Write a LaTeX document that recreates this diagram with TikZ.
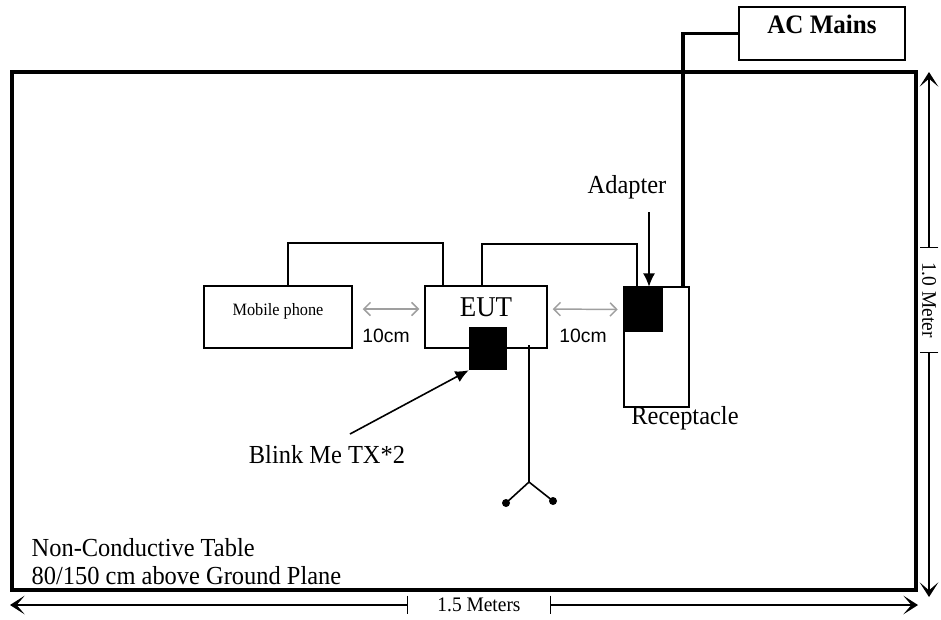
\documentclass[tikz,border=0pt]{standalone}
\usepackage{fontspec}
\setmainfont{Liberation Serif}[FakeStretch=0.94]
\newfontfamily\arialfont{Liberation Sans}
\usetikzlibrary{arrows.meta,positioning,calc,fit}

\begin{document}
\begin{tikzpicture}[x=0.75pt, y=-0.75pt, >={Latex[length=10pt,width=9pt]},
  every node/.style={font=\fontsize{19.5}{21}\selectfont},
  box/.style={draw, line width=1.1pt, inner sep=0pt},
  blk/.style={fill=black, inner sep=0pt},
  cable/.style={line width=1.2pt},
  gap/.style={gray!75, line width=1.1pt, {Straight Barb[length=5pt,width=10pt]}-{Straight Barb[length=5pt,width=10pt]}},
  dimline/.style={line width=1pt, -{Stealth[length=11pt,width=14pt,inset=6pt]}},
  dimtext/.style={inner sep=0pt, minimum height=13.5pt, font=\fontsize{15.5}{17}\selectfont},
  small/.style={font=\fontsize{13}{15}\selectfont},
  sans/.style={font=\arialfont\fontsize{14.5}{16}\selectfont}]
\useasboundingbox (0,0) rectangle (941,619);
% table and equipment
\node[draw, line width=2.3pt, inner sep=0pt, fit={(12,72) (916,590)}] (table) {};
\node[box, fit={(739,7) (905,60)}, font=\bfseries\fontsize{20}{22}\selectfont] (mains) {AC Mains};
\node[box, small, fit={(204,286) (352,348)}] (mobile) {Mobile phone};
\node[box, fit={(425,286) (547,348)}, font=\fontsize{21.5}{23}\selectfont] (eut) {EUT};
\node[box, fit={(624,287) (689,407)}] (recept) {};
\node[blk, fit={(624,287) (663,332)}] (adapter) {};
\node[blk, fit={(469,327) (507,370)}] (blink) {};
% labels
\node (adaptertxt) at (627,187) {Adapter};
\node (recepttxt) at (685,418) {Receptacle};
\node (blinktxt) at (327,455) {Blink Me TX*2};
\node[sans] (gap1) at (386,336) {10cm};
\node[sans] (gap2) at (583,336) {10cm};
\node[align=left, anchor=west] (tabletxt) at (27,562) {Non-Conductive Table\\80/150 cm above Ground Plane};
% cables
\coordinate (c1) at (288,243);
\coordinate (c2) at (443,243);
\coordinate (c3) at (482,244);
\coordinate (c4) at (637,244);
\coordinate (mainsdrop) at (683,32);
\draw[cable] (mobile.north -| c1) |- (c2) -- (eut.north -| c2);
\draw[cable] (eut.north -| c3) |- (c4) -- (adapter.north -| c4);
\draw[line width=2.4pt] (mains.west) -| (recept.north -| mainsdrop);
% antenna
\coordinate (antfoot) at (529,345);
\coordinate (antjoint) at (529,482);
\coordinate (antL) at (506,503);
\coordinate (antR) at (553,501);
\draw[cable] (antfoot) -- (antjoint) -- (antL);
\draw[cable] (antjoint) -- (antR);
\fill (antL) circle (3pt);
\fill (antR) circle (3pt);
% pointers
\coordinate (adtail) at (649,212);
\coordinate (blinktail) at (350,434);
\draw[cable, ->] (adtail) -- (adtail |- adapter.north);
\draw[cable, ->] (blinktail) -- (blink.south west);
\draw[gap] ($(mobile.east)+(10,-8)$) -- ($(eut.west)+(-5,-8)$);
\draw[gap] ($(eut.east)+(5,-8)$) -- ($(adapter.west)+(-6,0)$);
% dimensions
\coordinate (wleft) at (10,605);
\coordinate (wright) at (918,605);
\coordinate (htop) at (929,72);
\coordinate (hbot) at (929,597);
\node[dimtext, minimum width=106.5pt] (wdim) at (479,605) {1.5 Meters};
\node[dimtext, minimum width=78pt, rotate=-90] (hdim) at (929,300) {1.0 Meter};
\draw[line width=1pt] (wdim.north west) -- (wdim.south west) (wdim.north east) -- (wdim.south east);
\draw[line width=1pt] (hdim.north west) -- (hdim.south west) (hdim.north east) -- (hdim.south east);
\draw[dimline] (wdim.west) -- (wleft);
\draw[dimline] (wdim.east) -- (wright);
\draw[dimline] (hdim.west) -- (htop);
\draw[dimline] (hdim.east) -- (hbot);
\end{tikzpicture}
\end{document}
